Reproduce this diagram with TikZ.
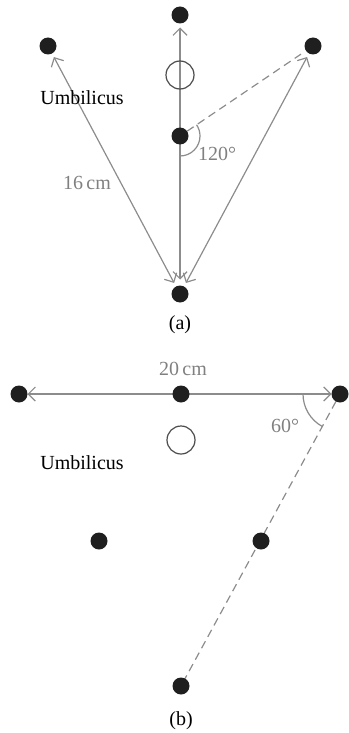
\documentclass[tikz,border=0pt]{standalone}
\usepackage{fontspec}
\setmainfont{Liberation Serif}
\usetikzlibrary{arrows.meta,positioning,backgrounds,angles}

\begin{document}
\begin{tikzpicture}[
    x=0.5pt, y=-0.5pt,
    port/.style={circle, fill=black!88, inner sep=0pt, outer sep=0pt, minimum size=8.5pt},
    navel/.style={circle, draw=black!70, line width=0.6pt, inner sep=0pt, minimum size=14pt},
    measure/.style={{Straight Barb[length=3.5pt,width=7pt]}-{Straight Barb[length=3.5pt,width=7pt]}, draw=black!45, line width=0.6pt},
    guide/.style={draw=black!45, line width=0.6pt, dash pattern=on 4pt off 2.5pt},
    greytext/.style={text=black!50, inner sep=1pt}
]
    \useasboundingbox (0,0) rectangle (348,733);

    % Panel (a): ports
    \node[port] (a1) at (180,15) {};
    \node[port] (a2) at (48,46) {};
    \node[port] (a3) at (313,46) {};
    \node[port] (a4) at (180,136) {};
    \node[port] (a5) at (180,294) {};
    \node[navel] (an) at (180,75) {};
    \node (aum) at (82,98) {Umbilicus};
    \node (acap) at (180,325) {(a)};

    % Panel (a): distances and angle
    \begin{scope}[on background layer]
        \draw[measure, shorten <=3pt, shorten >=2pt] (a5) -- (a1);
        \draw[measure, shorten <=2pt, shorten >=2pt] (a5) -- (a2);
        \draw[measure, shorten <=2pt, shorten >=2pt] (a5) -- (a3);
        \draw[guide, shorten >=3pt] (a4) -- (a3);
    \end{scope}
    \pic[draw=black!45, line width=0.6pt, angle radius=10pt] {angle = a5--a4--a3};
    \node[greytext] (a16) at (87,183) {16\,cm};
    \node[greytext] (a120) at (217,154) {120°};

    % Panel (b): ports
    \node[port] (b1) at (19,394) {};
    \node[port] (b2) at (181,394) {};
    \node[port] (b3) at (340,394) {};
    \node[port] (b4) at (99,541) {};
    \node[port] (b5) at (261,541) {};
    \node[port] (b6) at (181,686) {};
    \node[navel] (bn) at (181,440) {};
    \node (bum) at (82,463) {Umbilicus};
    \node (bcap) at (181,721) {(b)};

    % Panel (b): distances and angle
    \begin{scope}[on background layer]
        \draw[measure] (b1) -- (b3);
        \draw[guide] (b3) -- (b6);
    \end{scope}
    \pic[draw=black!45, line width=0.6pt, angle radius=18.5pt] {angle = b1--b3--b6};
    \node[greytext] (b20) at (183,369) {20\,cm};
    \node[greytext] (b60) at (285,426) {60°};
\end{tikzpicture}
\end{document}
